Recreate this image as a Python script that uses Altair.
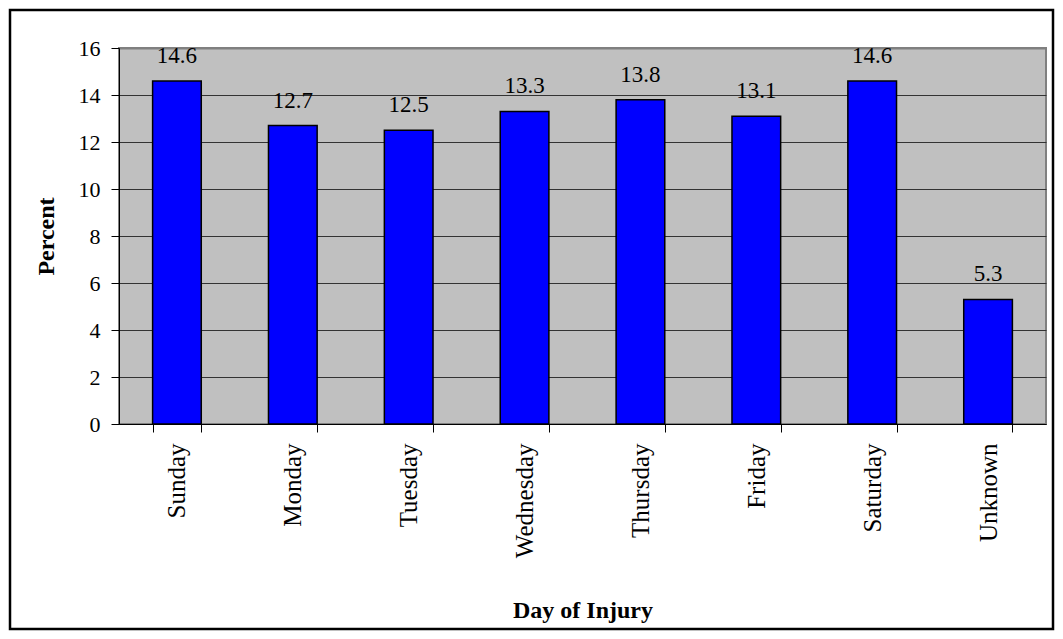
import altair as alt
import pandas as pd

days = ["Sunday", "Monday", "Tuesday", "Wednesday", "Thursday", "Friday", "Saturday", "Unknown"]
percent = [14.6, 12.7, 12.5, 13.3, 13.8, 13.1, 14.6, 5.3]
y_ticks = [0, 2, 4, 6, 8, 10, 12, 14, 16]

df = pd.DataFrame({"day": days, "pct": percent})

W, H = 927, 376
FONT = "Liberation Serif"

x_enc = alt.X(
    "day:N", sort=days,
    scale=alt.Scale(paddingInner=0.58, paddingOuter=0.29),
    axis=alt.Axis(
        title="Day of Injury", titleFont=FONT, titleFontSize=24, titleFontWeight="bold",
        titleColor="black", titleY=186, titleBaseline="middle",
        labelAngle=270, labelAlign="right", labelBaseline="middle",
        labelFont=FONT, labelFontSize=25, labelColor="black", labelPadding=11,
        tickBand="extent", tickSize=8, tickColor="black", tickWidth=1,
        domainColor="black", domainWidth=1, grid=False,
    ),
)
y_enc = alt.Y(
    "pct:Q",
    scale=alt.Scale(domain=[0, 16], nice=False),
    axis=alt.Axis(
        title="Percent", titleFont=FONT, titleFontSize=24, titleFontWeight="bold",
        titleColor="black", titleX=-73, titleBaseline="middle",
        values=y_ticks, labelFont=FONT, labelFontSize=22, labelColor="black",
        labelPadding=11, tickSize=8, tickColor="black", tickWidth=1,
        domainColor="black", domainWidth=1,
        grid=True,
        gridColor={"condition": {"test": "datum.value === 16", "value": "#808080"}, "value": "#333333"},
        gridWidth={"condition": {"test": "datum.value === 16", "value": 2}, "value": 1},
    ),
)

bars = alt.Chart(df).mark_bar(color="#0000FF", stroke="black", strokeWidth=1.5).encode(x=x_enc, y=y_enc)
labels = alt.Chart(df).mark_text(
    baseline="alphabetic", dy=-18, font=FONT, fontSize=23, color="black"
).encode(x=alt.X("day:N", sort=days), y="pct:Q", text=alt.Text("pct:Q", format=".1f"))

frame = alt.Chart(pd.DataFrame({"a": [0]})).mark_rect(
    filled=False, stroke="black", strokeWidth=2.5
).encode(
    x=alt.value(-109), x2=alt.value(W + 7),
    y=alt.value(-38), y2=alt.value(H + 205),
)

chart = alt.layer(bars, labels, frame).properties(
    width=W, height=H,
    autosize=alt.AutoSizeParams(type="none"),
    padding={"left": 111, "top": 40, "right": 9, "bottom": 207},
    background="white",
).configure_view(
    fill="#C0C0C0", stroke="#808080", strokeWidth=2
)

chart.save("out.html", embed_options={"renderer": "svg", "actions": False})
